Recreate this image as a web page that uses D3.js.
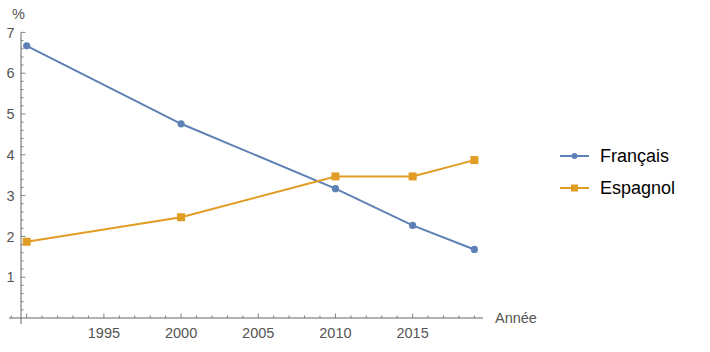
<!DOCTYPE html>
<html>
<head>
<meta charset="utf-8">
<script src="https://cdn.jsdelivr.net/npm/d3@7"></script>
<style>
  body { margin: 0; background: #fff; }
  svg { font-family: "Liberation Sans", Arial, sans-serif; }
</style>
</head>
<body>
<svg class="main" width="710" height="352"></svg>
<script>
// données
const annees = [1990, 2000, 2010, 2015, 2019];
const francais = [6.67, 4.76, 3.17, 2.27, 1.68];
const espagnol = [1.87, 2.47, 3.47, 3.47, 3.87];
const series = ["Français", "Espagnol"];
const couleurs = ["#5e81b5", "#e19c24"];
const xTicks = [1995, 2000, 2005, 2010, 2015];
const yTicks = [1, 2, 3, 4, 5, 6, 7];

const svg = d3.select("svg.main");

const x = d3.scaleLinear().domain([1989.63, 2019.56]).range([21, 483]);
const y = d3.scaleLinear().domain([0, 7]).range([318, 32.4]);

const gris = "#666";
const grisTexte = "#555";

// axes (style Mathematica : les axes se croisent avec un petit dépassement)
svg.append("line")
    .attr("x1", 9).attr("x2", x.range()[1])
    .attr("y1", y(0)).attr("y2", y(0))
    .attr("stroke", gris).attr("stroke-width", 1);
svg.append("line")
    .attr("x1", x.range()[0]).attr("x2", x.range()[0])
    .attr("y1", 324).attr("y2", y(7))
    .attr("stroke", gris).attr("stroke-width", 1);

// graduations x : mineures chaque année, majeures tous les 5 ans
const xMinor = d3.range(1989, 2020);
svg.append("g").selectAll("line")
    .data(xMinor)
    .join("line")
    .attr("x1", d => x(d)).attr("x2", d => x(d))
    .attr("y1", y(0)).attr("y2", d => y(0) - (d % 5 === 0 ? 4.5 : 2.5))
    .attr("stroke", gris).attr("stroke-width", 0.8);

svg.append("g").selectAll("text")
    .data(xTicks)
    .join("text")
    .attr("x", d => x(d)).attr("y", 337.5)
    .attr("text-anchor", "middle")
    .attr("fill", grisTexte).attr("font-size", 14.5)
    .text(d => d);

// graduations y : mineures tous les 0.2
const yMinor = d3.range(1, 36).map(d => d / 5);
svg.append("g").selectAll("line")
    .data(yMinor)
    .join("line")
    .attr("x1", x.range()[0]).attr("x2", d => x.range()[0] + (Math.abs(d - Math.round(d)) < 1e-6 ? 4.5 : 2.5))
    .attr("y1", d => y(d)).attr("y2", d => y(d))
    .attr("stroke", gris).attr("stroke-width", 0.8);

svg.append("g").selectAll("text")
    .data(yTicks)
    .join("text")
    .attr("x", 14.5).attr("y", d => y(d) + 5.2)
    .attr("text-anchor", "end")
    .attr("fill", grisTexte).attr("font-size", 14.5)
    .text(d => d);

// titres des axes
svg.append("text").attr("x", 495).attr("y", 322.5)
    .attr("fill", grisTexte).attr("font-size", 14.5).text("Année");
svg.append("text").attr("x", 12).attr("y", 19)
    .attr("fill", grisTexte).attr("font-size", 14.5).text("%");

// courbes
const line = d3.line()
    .x((d, i) => x(annees[i]))
    .y(d => y(d));

const donnees = [francais, espagnol];
donnees.forEach((vals, k) => {
    svg.append("path")
        .attr("d", line(vals))
        .attr("stroke", couleurs[k])
        .attr("stroke-width", 2)
        .attr("fill", "none");
});

// marqueurs
svg.append("g").selectAll("circle")
    .data(francais)
    .join("circle")
    .attr("cx", (d, i) => x(annees[i])).attr("cy", d => y(d))
    .attr("r", 3.6).attr("fill", couleurs[0]);

svg.append("g").selectAll("rect")
    .data(espagnol)
    .join("rect")
    .attr("x", (d, i) => x(annees[i]) - 4).attr("y", d => y(d) - 4)
    .attr("width", 8).attr("height", 8).attr("fill", couleurs[1]);

// légende
const leg = svg.append("g");
series.forEach((nom, k) => {
    const ly = 156 + k * 32;
    leg.append("line")
        .attr("x1", 560).attr("x2", 589)
        .attr("y1", ly).attr("y2", ly)
        .attr("stroke", couleurs[k]).attr("stroke-width", 2);
    if (k === 0) {
        leg.append("circle").attr("cx", 574.5).attr("cy", ly).attr("r", 3).attr("fill", couleurs[k]);
    } else {
        leg.append("rect").attr("x", 571).attr("y", ly - 3.5).attr("width", 7).attr("height", 7).attr("fill", couleurs[k]);
    }
    leg.append("text")
        .attr("x", 600).attr("y", ly + 6)
        .attr("font-size", 18).attr("fill", "#000")
        .text(nom);
});
</script>
</body>
</html>
